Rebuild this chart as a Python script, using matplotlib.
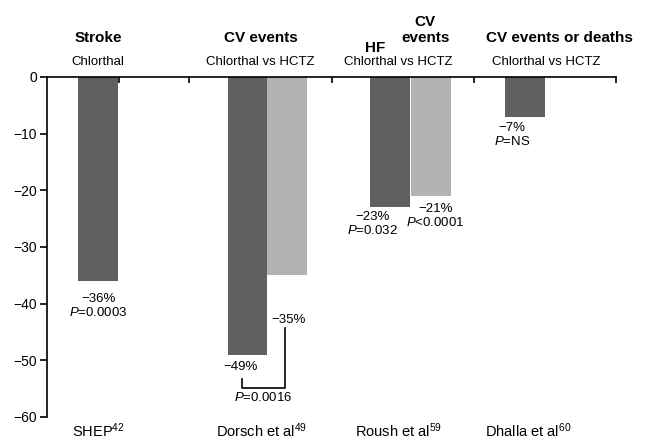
import matplotlib
matplotlib.use("Agg")
import matplotlib.pyplot as plt

plt.rcParams['font.family'] = ['Liberation Sans', 'DejaVu Sans']
plt.rcParams['mathtext.fontset'] = 'custom'
plt.rcParams['mathtext.rm'] = 'Liberation Sans'
plt.rcParams['mathtext.it'] = 'Liberation Sans:italic'
plt.rcParams['mathtext.bf'] = 'Liberation Sans:bold'

# data
studies = ['SHEP$^{42}$', 'Dorsch et al$^{49}$', 'Roush et al$^{59}$', 'Dhalla et al$^{60}$']
chlorthal = [-36, -49, -23, -7]
hctz = [None, -35, -21, None]
chlorthal_labels = ['\u221236%\n$P$=0.0003', '\u221249%', '\u221223%\n$P$=0.032', '\u22127%\n$P$=NS']
hctz_labels = [None, '\u221235%', '\u221221%\n$P$<0.0001', None]
comparisons = ['Chlorthal', 'Chlorthal vs HCTZ', 'Chlorthal vs HCTZ', 'Chlorthal vs HCTZ']
yticks = [0, -10, -20, -30, -40, -50, -60]

dark = '#606060'
light = '#b3b3b3'
w = 0.28
dark_x = [0.36, 1.41, 2.41, 3.36]
light_x = [None, 1.69, 2.70, None]

fig = plt.figure(figsize=(6.5, 4.41), dpi=100)
ax = fig.add_axes([47 / 650, 24 / 441, 569 / 650, 340 / 441])

for x, v in zip(dark_x, chlorthal):
    ax.bar(x, v, width=w, color=dark, align='center', zorder=2)
for x, v in zip(light_x, hctz):
    if v is not None:
        ax.bar(x, v, width=w, color=light, align='center', zorder=2)

ax.set_xlim(0, 4)
ax.set_ylim(-60, 0)
ax.set_yticks(yticks)
ax.set_yticklabels([str(t).replace('-', '\u2212') for t in yticks], fontsize=10)
ax.spines['right'].set_visible(False)
ax.spines['bottom'].set_visible(False)
ax.spines['left'].set_linewidth(1.2)
ax.spines['top'].set_linewidth(1.2)
ax.tick_params(axis='y', direction='out', length=5, width=1.2, pad=2)
ax.xaxis.set_ticks_position('top')
ax.set_xticks([0.506, 1, 2, 3, 3.49, 4])
ax.set_xticklabels([])
ax.tick_params(axis='x', direction='in', length=4, width=1.2)

fs = 9.5
# value labels
lab_pos = [(0.36, -40.5), (1.36, -51.2), (2.29, -26.0), (3.27, -10.2)]
for (x, y), t in zip(lab_pos, chlorthal_labels):
    ax.text(x, y, t, ha='center', va='center', fontsize=fs, linespacing=1.1)
ax.text(1.7, -42.9, hctz_labels[1], ha='center', va='center', fontsize=fs)
ax.text(2.73, -24.6, hctz_labels[2], ha='center', va='center', fontsize=fs, linespacing=1.1)

# bracket for Dorsch comparison
ax.plot([1.37, 1.37, 1.67, 1.67], [-53.3, -54.9, -54.9, -44.3], color='black', lw=1.2, clip_on=False)
ax.text(1.52, -56.6, '$P$=0.0016', ha='center', va='center', fontsize=fs)

# study names under the plot
name_x = [0.36, 1.51, 2.47, 3.38]
for x, s in zip(name_x, studies):
    ax.text(x, -62.5, s, ha='center', va='center', fontsize=10.5, clip_on=False)

# headers
ax.text(0.36, 6.9, 'Stroke', ha='center', va='center', fontsize=11, fontweight='bold')
ax.text(1.5, 6.9, 'CV events', ha='center', va='center', fontsize=11, fontweight='bold')
ax.text(2.31, 5.1, 'HF', ha='center', va='center', fontsize=11, fontweight='bold')
ax.text(2.66, 8.3, 'CV\nevents', ha='center', va='center', fontsize=11, fontweight='bold', linespacing=1.1)
ax.text(3.6, 6.9, 'CV events or deaths', ha='center', va='center', fontsize=11, fontweight='bold')
sub_x = [0.36, 1.5, 2.47, 3.51]
for x, s in zip(sub_x, comparisons):
    ax.text(x, 2.65, s, ha='center', va='center', fontsize=9.5)

fig.savefig('out.png', dpi=100)
